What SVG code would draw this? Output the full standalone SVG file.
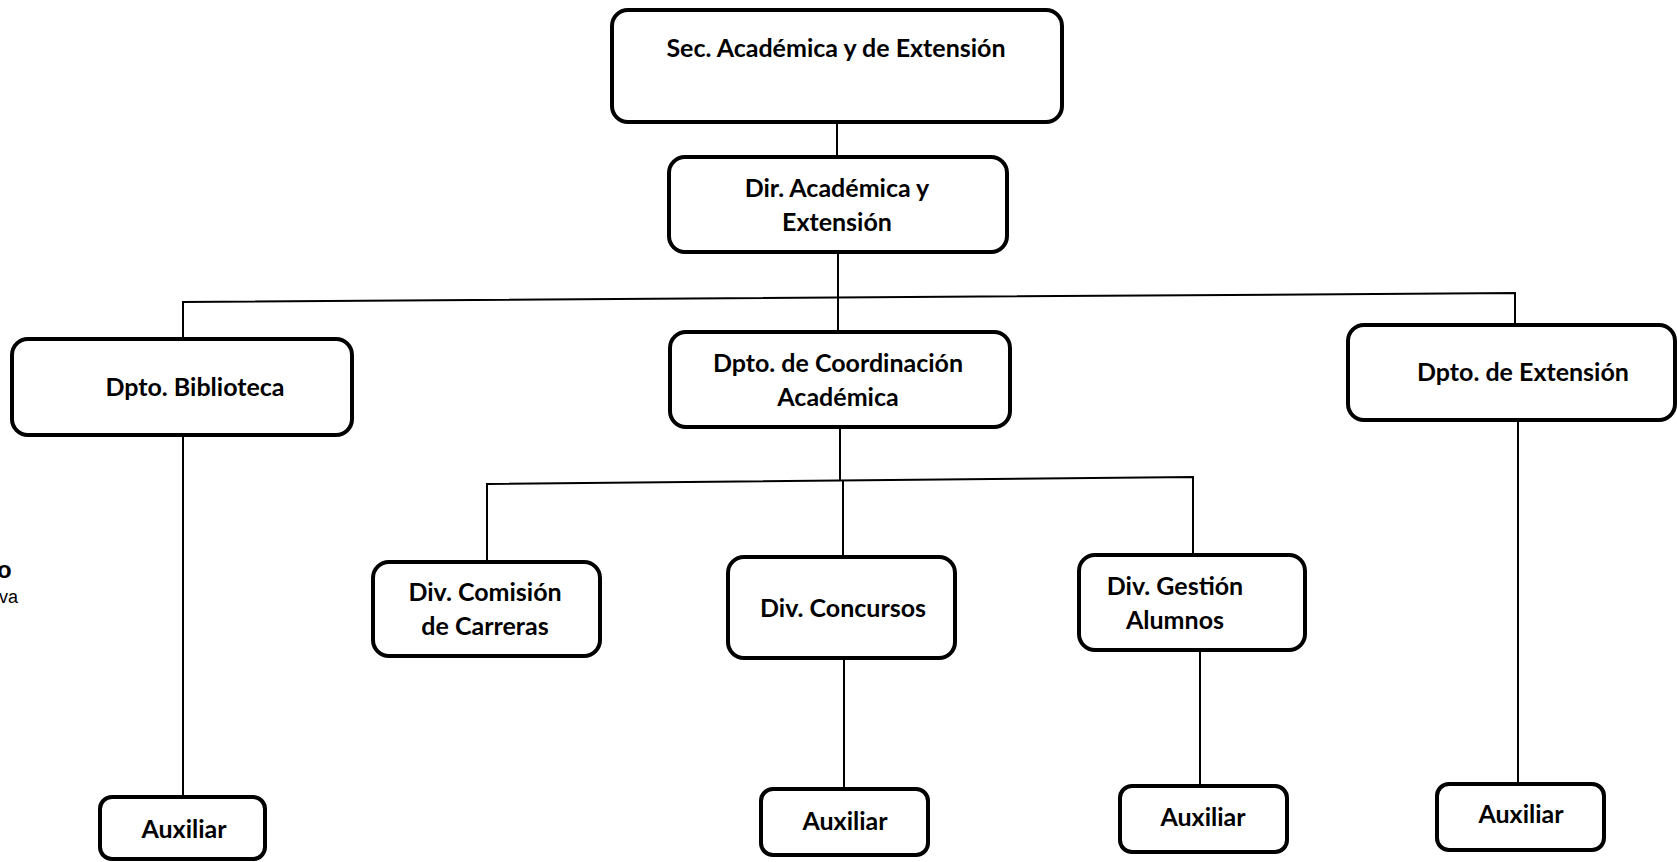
<svg xmlns="http://www.w3.org/2000/svg" width="1677" height="862" viewBox="0 0 1677 862">
<style>
.box{fill:#fff;stroke:#000;stroke-width:4;}
.t{font-family:Lato,"Liberation Sans",sans-serif;font-weight:bold;font-size:25px;fill:#000;text-anchor:middle;}
.c{stroke:#000;stroke-width:2;fill:none;}
.side{font-family:"Liberation Sans",Arial,sans-serif;fill:#000;}
</style>
<rect width="1677" height="862" fill="#fff"/>
<g id="connectors">
<line class="c" x1="837" y1="122" x2="837" y2="157"/>
<line class="c" x1="838" y1="252" x2="838" y2="332"/>
<polyline class="c" points="183,339 183,302 1515,293 1515,325"/>
<line class="c" x1="183" y1="437" x2="183" y2="797"/>
<line class="c" x1="840" y1="428" x2="840" y2="480"/>
<polyline class="c" points="487,562 487,484 1193,477 1193,556"/>
<line class="c" x1="843" y1="481" x2="843" y2="557"/>
<line class="c" x1="844" y1="659" x2="844" y2="789"/>
<line class="c" x1="1200" y1="650" x2="1200" y2="786"/>
<line class="c" x1="1518" y1="420" x2="1518" y2="784"/>
</g>
<g id="sec"><rect class="box" x="612" y="10" width="450" height="112" rx="16"/><text class="t" x="836" y="57">Sec. Académica y de Extensión</text></g>
<g id="dir"><rect class="box" x="669" y="157" width="338" height="95" rx="16"/><text class="t" x="837" y="197">Dir. Académica y</text><text class="t" x="837" y="231">Extensión</text></g>
<g id="biblioteca"><rect class="box" x="12" y="339" width="340" height="96" rx="16"/><text class="t" x="195" y="396">Dpto. Biblioteca</text></g>
<g id="coordinacion"><rect class="box" x="670" y="332" width="340" height="95" rx="16"/><text class="t" x="838" y="372">Dpto. de Coordinación</text><text class="t" x="838" y="406">Académica</text></g>
<g id="extension"><rect class="box" x="1348" y="325" width="327" height="95" rx="16"/><text class="t" x="1523" y="381">Dpto. de Extensión</text></g>
<g id="comision"><rect class="box" x="373" y="562" width="227" height="94" rx="16"/><text class="t" x="485" y="601">Div. Comisión</text><text class="t" x="485" y="635">de Carreras</text></g>
<g id="concursos"><rect class="box" x="728" y="557" width="227" height="101" rx="16"/><text class="t" x="843" y="617">Div. Concursos</text></g>
<g id="gestion"><rect class="box" x="1079" y="555" width="226" height="95" rx="16"/><text class="t" x="1175" y="595">Div. Gestión</text><text class="t" x="1175" y="629">Alumnos</text></g>
<g id="aux1"><rect class="box" x="100" y="797" width="165" height="62" rx="12"/><text class="t" x="184" y="838">Auxiliar</text></g>
<g id="aux2"><rect class="box" x="761" y="789" width="167" height="66" rx="12"/><text class="t" x="845" y="830">Auxiliar</text></g>
<g id="aux3"><rect class="box" x="1120" y="786" width="167" height="66" rx="12"/><text class="t" x="1203" y="826">Auxiliar</text></g>
<g id="aux4"><rect class="box" x="1437" y="784" width="167" height="66" rx="12"/><text class="t" x="1521" y="823">Auxiliar</text></g>
<g id="margin"><text class="side" x="-3" y="578" font-size="24" font-weight="bold">o</text><text class="side" x="-1" y="603" font-size="18">va</text></g>
</svg>
